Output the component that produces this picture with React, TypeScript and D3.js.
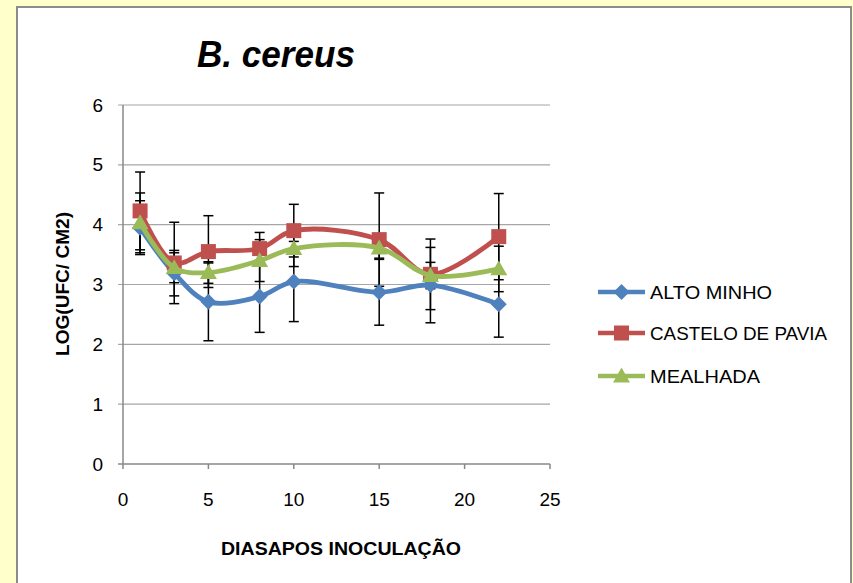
import React from "react";
import * as d3 from "d3";

const days = [1, 3, 5, 8, 10, 15, 18, 22];
const altoMinho = [3.95, 3.19, 2.71, 2.8, 3.05, 2.87, 2.99, 2.67];
const altoMinhoErr = [0.45, 0.38, 0.65, 0.6, 0.67, 0.55, 0.63, 0.55];
const castelo = [4.23, 3.36, 3.55, 3.6, 3.9, 3.75, 3.17, 3.8];
const casteloErr = [0.65, 0.68, 0.6, 0.27, 0.44, 0.78, 0.59, 0.72];
const mealhada = [4.03, 3.28, 3.2, 3.4, 3.6, 3.61, 3.15, 3.26];
const mealhadaErr = [0.5, 0.25, 0.18, 0.35, 0.3, 0.17, 0.22, 0.38];
const xTicks = [0, 5, 10, 15, 20, 25];
const yTicks = [0, 1, 2, 3, 4, 5, 6];
const seriesNames = ["ALTO MINHO", "CASTELO DE PAVIA", "MEALHADA"];
const seriesColors = ["#4F81BD", "#C0504D", "#9BBB59"];
const legendWidths = [122, 177, 110];

const W = 853;
const H = 583;
const FONT = "'Liberation Sans', Arial, sans-serif";

function Marker({ kind, x, y, color }: { kind: number; x: number; y: number; color: string }) {
  if (kind === 0) {
    const s = 8;
    return <path d={`M${x},${y - s}L${x + s},${y}L${x},${y + s}L${x - s},${y}Z`} fill={color} />;
  }
  if (kind === 1) {
    const s = 7.5;
    return <rect x={x - s} y={y - s} width={2 * s} height={2 * s} fill={color} />;
  }
  const s = 8.5;
  return <path d={`M${x},${y - s}L${x + s},${y + s * 0.75}L${x - s},${y + s * 0.75}Z`} fill={color} />;
}

export default function App() {
  const x = d3.scaleLinear().domain([0, 25]).range([123, 550]);
  const y = d3.scaleLinear().domain([0, 6]).range([464, 105]);
  const values = [altoMinho, castelo, mealhada];
  const errs = [altoMinhoErr, casteloErr, mealhadaErr];
  const line = d3
    .line<[number, number]>()
    .x((d) => x(d[0]))
    .y((d) => y(d[1]))
    .curve(d3.curveCatmullRom.alpha(0.5));

  return (
    <svg width={W} height={H} style={{ position: "fixed", left: 0, top: 0 }} fontFamily={FONT}>
      <rect x={0} y={0} width={W} height={H} fill="#FFFFCC" />
      <rect x={17} y={7} width={834} height={H + 20} fill="#FFFFFF" stroke="#8C8C8C" strokeWidth={2} />

      {/* title */}
      <text x={276} y={67} fontSize={37} fontWeight="bold" fontStyle="italic" textAnchor="middle"
        textLength={158} lengthAdjust="spacingAndGlyphs">B. cereus</text>

      {/* gridlines */}
      {yTicks.map((t) => (
        <g key={t}>
          <line x1={118} x2={550} y1={y(t)} y2={y(t)} stroke={t === 0 ? "#888888" : "#A6A6A6"} strokeWidth={t === 0 ? 1.5 : 1.2} />
          <text x={103} y={y(t) + 6.5} fontSize={19} textAnchor="end" fill="#000">{t}</text>
        </g>
      ))}
      <line x1={123} x2={123} y1={105} y2={464} stroke="#888888" strokeWidth={1.5} />
      {xTicks.map((t) => (
        <g key={t}>
          <line x1={x(t)} x2={x(t)} y1={464} y2={469} stroke="#888888" strokeWidth={1.5} />
          <text x={x(t)} y={506} fontSize={19} textAnchor="middle" fill="#000">{t}</text>
        </g>
      ))}

      {/* axis titles */}
      <text x={341} y={555} fontSize={19} fontWeight="bold" textAnchor="middle"
        textLength={240} lengthAdjust="spacingAndGlyphs">DIASAPOS INOCULAÇÃO</text>
      <text transform={`translate(69,284) rotate(-90)`} fontSize={18} fontWeight="bold" textAnchor="middle"
        textLength={144} lengthAdjust="spacingAndGlyphs">LOG(UFC/ CM2)</text>

      {/* error bars */}
      {values.map((vals, si) =>
        vals.map((v, i) => {
          const cx = x(days[i]);
          const e = errs[si][i];
          return (
            <g key={`e${si}-${i}`} stroke="#000" strokeWidth={1.5}>
              <line x1={cx} x2={cx} y1={y(v + e)} y2={y(v - e)} />
              <line x1={cx - 5} x2={cx + 5} y1={y(v + e)} y2={y(v + e)} />
              <line x1={cx - 5} x2={cx + 5} y1={y(v - e)} y2={y(v - e)} />
            </g>
          );
        })
      )}

      {/* series */}
      {values.map((vals, si) => (
        <g key={`s${si}`}>
          <path d={line(days.map((d, i) => [d, vals[i]] as [number, number])) || ""} fill="none"
            stroke={seriesColors[si]} strokeWidth={4.8} strokeLinejoin="round" />
          {vals.map((v, i) => (
            <Marker key={i} kind={si} x={x(days[i])} y={y(v)} color={seriesColors[si]} />
          ))}
        </g>
      ))}

      {/* legend */}
      {seriesNames.map((n, i) => {
        const ly = [292, 333, 376][i];
        return (
          <g key={n}>
            <line x1={598} x2={645} y1={ly} y2={ly} stroke={seriesColors[i]} strokeWidth={4.5} />
            <Marker kind={i} x={621.5} y={ly} color={seriesColors[i]} />
            <text x={650} y={ly + 6.5} fontSize={18} textLength={legendWidths[i]} lengthAdjust="spacingAndGlyphs">{n}</text>
          </g>
        );
      })}
    </svg>
  );
}
